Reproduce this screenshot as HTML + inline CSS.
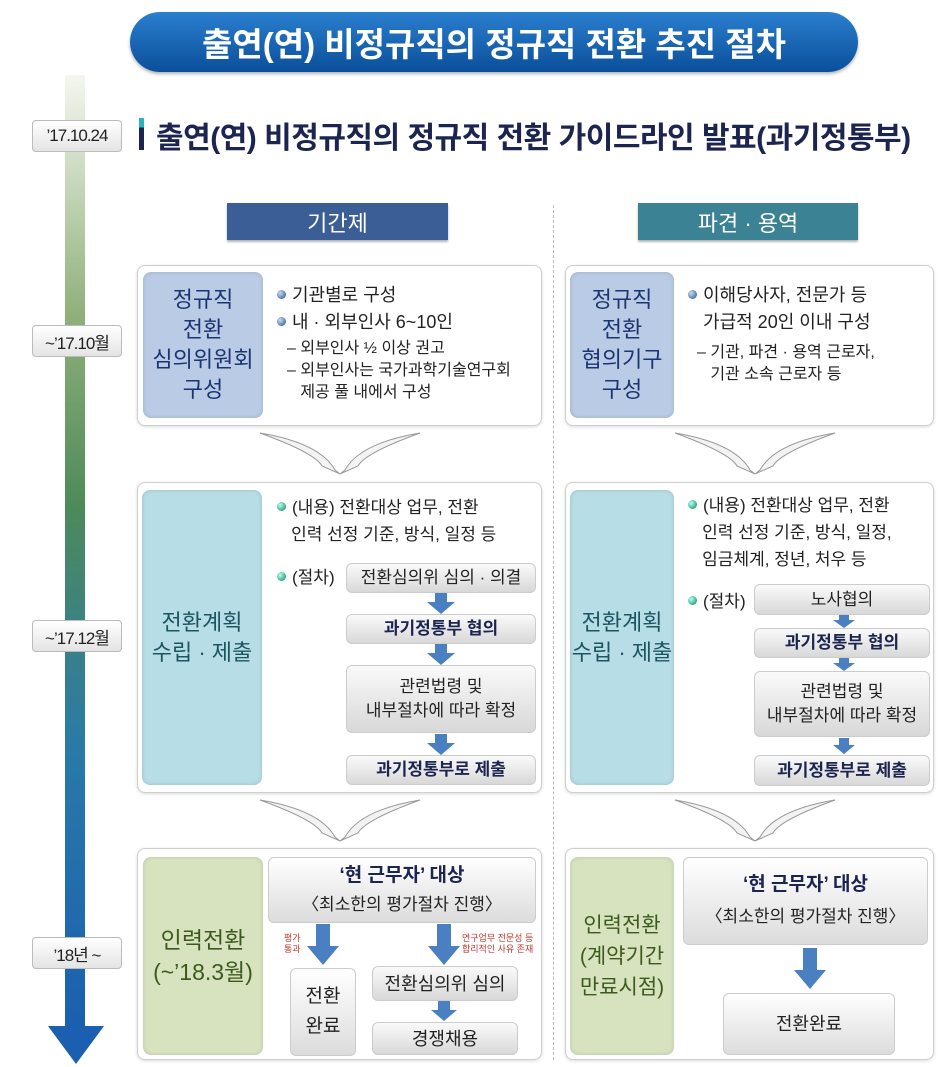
<!DOCTYPE html>
<html><head><meta charset="utf-8"><style>
*{margin:0;padding:0;box-sizing:border-box}
body{width:948px;height:1067px;background:#fff;position:relative;overflow:hidden;font-family:"Liberation Sans","Noto Sans CJK KR","NanumGothic",sans-serif;color:#222}
.a{position:absolute}
.panel{position:absolute;border:1px solid #cfcfcf;border-radius:8px;background:#fff;box-shadow:0 1px 3px rgba(0,0,0,.15)}
.lab{position:absolute;border-radius:8px;display:flex;align-items:center;justify-content:center;text-align:center;font-size:22px;line-height:30px;box-shadow:inset 0 0 4px rgba(0,0,0,.15)}
.date{position:absolute;left:32px;width:90px;height:32px;border:1px solid #bbb;border-radius:4px;background:linear-gradient(#fff,#e4e4e4);font-size:17px;display:flex;align-items:center;justify-content:center;color:#222;letter-spacing:-1px}
.step{position:absolute;border-radius:6px;background:linear-gradient(#fafafa,#d8d8d8);border:1px solid #ccc;display:flex;align-items:center;justify-content:center;text-align:center;font-size:17px;line-height:24px;color:#222}
.b{font-weight:bold;color:#1c2450}
.txt{position:absolute;font-size:18px;line-height:27px;color:#222}
.dot{display:inline-block;width:9px;height:9px;border-radius:50%;background:radial-gradient(circle at 35% 35%,#bfe,#3a8 70%);margin-right:6px;vertical-align:2px}
.dotb{background:radial-gradient(circle at 35% 35%,#cde,#4679b0 70%)}
.red{position:absolute;font-size:9px;line-height:11px;color:#c0392b}
</style></head><body>

<div class="a" style="left:130px;top:12px;width:728px;height:60px;border-radius:30px;background:linear-gradient(#2a7fcf,#0b4f9a);box-shadow:0 2px 3px rgba(0,0,0,.3);color:#fff;font-size:33px;font-weight:bold;display:flex;align-items:center;justify-content:center">출연(연) 비정규직의 정규직 전환 추진 절차</div>

<div class="a" style="left:65px;top:75px;width:20px;height:960px;background:linear-gradient(#f4f7f0 0%,#8fb07a 25%,#4d8a5a 45%,#2a7aa8 70%,#1a5fb0 100%)"></div>
<svg class="a" style="left:48px;top:1026px" width="56" height="38"><polygon points="0,0 56,0 28,38" fill="#1a5fb0"/></svg>

<div class="date" style="top:120px">’17.10.24</div>
<div class="date" style="top:325px">~’17.10월</div>
<div class="date" style="top:620px">~’17.12월</div>
<div class="date" style="top:937px">’18년 ~</div>

<div class="a" style="left:139px;top:118px;width:5px;height:32px;background:linear-gradient(#2bb3c0 30%,#1c2450 30%)"></div>
<div class="a" style="left:156px;top:113px;font-size:30px;font-weight:bold;color:#1c2450;white-space:nowrap;letter-spacing:-0.5px">출연(연) 비정규직의 정규직 전환 가이드라인 발표(과기정통부)</div>

<div class="a" style="left:553px;top:205px;height:855px;border-left:1px dashed #bbb"></div>

<div class="a" style="left:227px;top:203px;width:221px;height:37px;background:#3c5e96;color:#fff;font-size:22px;display:flex;align-items:center;justify-content:center;box-shadow:0 2px 2px rgba(0,0,0,.3)">기간제</div>
<div class="a" style="left:638px;top:203px;width:220px;height:37px;background:#3a8294;color:#fff;font-size:22px;display:flex;align-items:center;justify-content:center;box-shadow:0 2px 2px rgba(0,0,0,.3)">파견 · 용역</div>

<div class="panel" style="left:137px;top:265px;width:405px;height:161px"></div>
<div class="lab" style="left:143px;top:272px;width:120px;height:146px;background:#b9cbe5;color:#1c3570">정규직<br>전환<br>심의위원회<br>구성</div>
<div class="txt" style="left:277px;top:282px"><span class="dot dotb"></span>기관별로 구성<br><span class="dot dotb"></span>내 · 외부인사 6~10인</div>
<div class="txt" style="left:287px;top:338px;font-size:16px;line-height:22px">– 외부인사 ½ 이상 권고<br>– 외부인사는 국가과학기술연구회<br>&nbsp;&nbsp;&nbsp;제공 풀 내에서 구성</div>

<div class="panel" style="left:565px;top:265px;width:369px;height:161px"></div>
<div class="lab" style="left:570px;top:272px;width:104px;height:146px;background:#b9cbe5;color:#1c3570">정규직<br>전환<br>협의기구<br>구성</div>
<div class="txt" style="left:688px;top:282px"><span class="dot dotb"></span>이해당사자, 전문가 등<br>&nbsp;&nbsp;&nbsp;가급적 20인 이내 구성</div>
<div class="txt" style="left:697px;top:342px;font-size:16px;line-height:22px">– 기관, 파견 · 용역 근로자,<br>&nbsp;&nbsp;&nbsp;기관 소속 근로자 등</div>

<svg class="a" style="left:240px;top:428px" width="200" height="50"><path d="M20,5 Q80,15 95,42 L100,46 L105,42 Q120,15 180,5 Q125,25 118,38 L100,46 L82,38 Q75,25 20,5Z" fill="#f3f3f3" stroke="#999"/></svg>
<svg class="a" style="left:655px;top:428px" width="200" height="50"><path d="M20,5 Q80,15 95,42 L100,46 L105,42 Q120,15 180,5 Q125,25 118,38 L100,46 L82,38 Q75,25 20,5Z" fill="#f3f3f3" stroke="#999"/></svg>
<svg class="a" style="left:240px;top:795px" width="200" height="50"><path d="M20,5 Q80,15 95,42 L100,46 L105,42 Q120,15 180,5 Q125,25 118,38 L100,46 L82,38 Q75,25 20,5Z" fill="#f3f3f3" stroke="#999"/></svg>
<svg class="a" style="left:655px;top:795px" width="200" height="50"><path d="M20,5 Q80,15 95,42 L100,46 L105,42 Q120,15 180,5 Q125,25 118,38 L100,46 L82,38 Q75,25 20,5Z" fill="#f3f3f3" stroke="#999"/></svg>

<div class="panel" style="left:137px;top:482px;width:405px;height:311px"></div>
<div class="lab" style="left:142px;top:490px;width:120px;height:295px;background:#b7dde6;color:#1c5560">전환계획<br>수립 · 제출</div>
<div class="txt" style="left:277px;top:494px;font-size:17px"><span class="dot"></span>(내용) 전환대상 업무, 전환<br>&nbsp;&nbsp;&nbsp;인력 선정 기준, 방식, 일정 등</div>
<div class="txt" style="left:277px;top:564px;font-size:17px"><span class="dot"></span>(절차)</div>
<div class="step" style="left:346px;top:563px;width:190px;height:30px">전환심의위 심의 · 의결</div>
<div class="step b" style="left:346px;top:614px;width:190px;height:30px">과기정통부 협의</div>
<div class="step" style="left:346px;top:665px;width:190px;height:68px">관련법령 및<br>내부절차에 따라 확정</div>
<div class="step b" style="left:346px;top:755px;width:190px;height:30px">과기정통부로 제출</div>
<svg class="a" style="left:426px;top:593px" width="30" height="22"><polygon points="9,0 21,0 21,9 29,9 15,21 1,9 9,9" fill="#4a7fc1"/></svg>
<svg class="a" style="left:426px;top:644px" width="30" height="22"><polygon points="9,0 21,0 21,9 29,9 15,21 1,9 9,9" fill="#4a7fc1"/></svg>
<svg class="a" style="left:426px;top:734px" width="30" height="22"><polygon points="9,0 21,0 21,9 29,9 15,21 1,9 9,9" fill="#4a7fc1"/></svg>

<div class="panel" style="left:565px;top:482px;width:369px;height:311px"></div>
<div class="lab" style="left:570px;top:490px;width:104px;height:295px;background:#b7dde6;color:#1c5560">전환계획<br>수립 · 제출</div>
<div class="txt" style="left:688px;top:492px;font-size:17px"><span class="dot"></span>(내용) 전환대상 업무, 전환<br>&nbsp;&nbsp;&nbsp;인력 선정 기준, 방식, 일정,<br>&nbsp;&nbsp;&nbsp;임금체계, 정년, 처우 등</div>
<div class="txt" style="left:688px;top:588px;font-size:17px"><span class="dot"></span>(절차)</div>
<div class="step" style="left:754px;top:584px;width:176px;height:31px">노사협의</div>
<div class="step b" style="left:754px;top:628px;width:176px;height:30px">과기정통부 협의</div>
<div class="step" style="left:754px;top:671px;width:176px;height:66px">관련법령 및<br>내부절차에 따라 확정</div>
<div class="step b" style="left:754px;top:755px;width:176px;height:31px">과기정통부로 제출</div>
<svg class="a" style="left:832px;top:615px" width="24" height="14"><polygon points="7,0 17,0 17,5 23,5 12,13 1,5 7,5" fill="#4a7fc1"/></svg>
<svg class="a" style="left:832px;top:658px" width="24" height="14"><polygon points="7,0 17,0 17,5 23,5 12,13 1,5 7,5" fill="#4a7fc1"/></svg>
<svg class="a" style="left:832px;top:738px" width="24" height="17"><polygon points="7,0 17,0 17,7 23,7 12,16 1,7 7,7" fill="#4a7fc1"/></svg>

<div class="panel" style="left:137px;top:848px;width:405px;height:212px"></div>
<div class="lab" style="left:143px;top:857px;width:120px;height:198px;background:#d7e3bf;color:#3d5a1e;font-size:23px;line-height:32px">인력전환<br>(~’18.3월)</div>
<div class="step" style="left:268px;top:857px;width:268px;height:66px;font-size:19px;line-height:29px;background:linear-gradient(#fff,#dcdcdc)"><span><b style="color:#1c2450">‘현 근무자’ 대상</b><br><span style="font-size:17px">〈최소한의 평가절차 진행〉</span></span></div>
<svg class="a" style="left:306px;top:924px" width="34" height="42"><polygon points="10,0 24,0 24,22 33,22 17,41 1,22 10,22" fill="#4a7fc1"/></svg>
<svg class="a" style="left:427px;top:924px" width="34" height="42"><polygon points="10,0 24,0 24,22 33,22 17,41 1,22 10,22" fill="#4a7fc1"/></svg>
<div class="red" style="left:284px;top:933px">평가<br>통과</div>
<div class="red" style="left:462px;top:933px">연구업무 전문성 등<br>합리적인 사유 존재</div>
<div class="step" style="left:290px;top:968px;width:66px;height:88px;font-size:19px;line-height:30px;background:linear-gradient(#fff,#dcdcdc)">전환<br>완료</div>
<div class="step" style="left:372px;top:966px;width:146px;height:35px;font-size:18px">전환심의위 심의</div>
<svg class="a" style="left:430px;top:1001px" width="28" height="21"><polygon points="8,0 20,0 20,9 27,9 14,20 1,9 8,9" fill="#4a7fc1"/></svg>
<div class="step" style="left:372px;top:1022px;width:146px;height:33px;font-size:18px">경쟁채용</div>

<div class="panel" style="left:565px;top:848px;width:369px;height:212px"></div>
<div class="lab" style="left:570px;top:857px;width:104px;height:198px;background:#d7e3bf;color:#3d5a1e;font-size:21px;line-height:31px">인력전환<br>(계약기간<br>만료시점)</div>
<div class="step" style="left:683px;top:857px;width:245px;height:88px;font-size:19px;line-height:32px;background:linear-gradient(#fff,#dcdcdc)"><span><b style="color:#1c2450">‘현 근무자’ 대상</b><br><span style="font-size:17px">〈최소한의 평가절차 진행〉</span></span></div>
<svg class="a" style="left:793px;top:948px" width="34" height="42"><polygon points="10,0 24,0 24,22 33,22 17,41 1,22 10,22" fill="#4a7fc1"/></svg>
<div class="step" style="left:723px;top:993px;width:172px;height:62px;font-size:18px;background:linear-gradient(#fff,#dcdcdc)">전환완료</div>

</body></html>
